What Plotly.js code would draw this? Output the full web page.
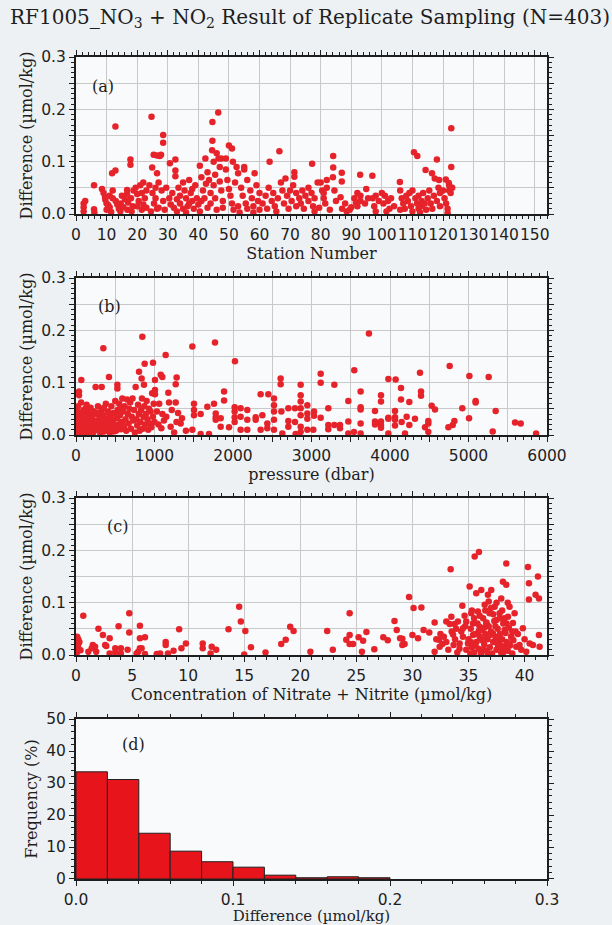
<!DOCTYPE html>
<html>
<head>
<meta charset="utf-8">
<script src="https://cdn.plot.ly/plotly-3.0.1.min.js"></script>
<style>html,body{margin:0;padding:0;background:#eef1f4;}#chart{width:612px;height:925px;}</style>
</head>
<body>
<div id="chart"></div>
<script>
// (a) station number vs difference
const pointsA = [
[2.5,0.020],[2.5,0.013],[2.5,0.005],[3,0.025],
[5.9,0.055],[5.9,0.009],[6,0.003],
[8.5,0.048],[9,0.040],[9.5,0.032],[9.6,0.027],[10,0.020],[10.5,0.017],[11,0.013],[10,0.008],[11.5,0.004],[12,0.045],[12,0.030],[11,0.035],
[11.8,0.078],[12.9,0.083],[12.9,0.167],[13,0.025],[13.5,0.018],[14,0.010],[14.5,0.005],
[14.6,0.020],[15.5,0.013],[16,0.028],[16.7,0.046],[16.7,0.038],[16.8,0.008],[17,0.022],[15,0.035],
[17.8,0.104],[17.8,0.094],[18,0.030],[18.5,0.015],[18.2,0.005],[18.8,0.045],
[19.5,0.050],[20,0.038],[20.5,0.025],[21,0.055],[21.5,0.040],[22,0.060],[22,0.018],[22.5,0.030],[23,0.012],[23,0.045],[21.5,0.008],[20,0.015],
[24.9,0.089],[24.7,0.186],[24,0.055],[25,0.040],[25.5,0.020],[26,0.050],[26.5,0.078],[26,0.030],[27,0.012],[27,0.060],[24.5,0.005],[26.5,0.010],
[25.4,0.113],[26.5,0.112],[27.4,0.111],[27.8,0.113],[28.5,0.151],[28.5,0.136],[28,0.045],[28.5,0.025],[29,0.008],[29.5,0.050],
[30.7,0.097],[32.5,0.104],[32.5,0.083],[32.5,0.072],[30.5,0.030],[31,0.018],[31.5,0.040],[32,0.012],[33,0.028],[33,0.005],[34,0.035],[34,0.020],[33.5,0.050],
[35,0.060],[35.5,0.045],[36,0.030],[36.5,0.015],[37,0.065],[37.5,0.040],[38,0.025],[38.5,0.010],[39,0.055],[39.5,0.030],[40,0.018],[40.5,0.005],[36,0.003],[38,0.048],[37,0.020],[35,0.010],
[40.5,0.092],[42.3,0.106],[41,0.070],[41.5,0.045],[42,0.030],[42.5,0.058],[43,0.080],[43.5,0.065],[44,0.040],[44,0.020],[43,0.012],[41,0.025],[44.5,0.122],[44.6,0.140],[44.6,0.176],[45,0.100],[45.5,0.075],[45,0.055],[45.5,0.030],
[46.5,0.194],[46,0.116],[46.6,0.106],[47.5,0.106],[47,0.062],[47.5,0.045],[48,0.025],[48,0.012],[46,0.008],[47,0.090],
[50,0.131],[51,0.125],[49,0.106],[49.5,0.065],[50,0.048],[50.5,0.035],[51,0.020],[51.5,0.008],[49,0.085],[52,0.060],[51.3,0.100],
[52.5,0.090],[53,0.078],[55,0.090],[55,0.085],[54,0.050],[54.5,0.035],[55.5,0.020],[56,0.065],[56,0.010],[53,0.015],[53.5,0.003],
[58.4,0.078],[57,0.045],[57.5,0.030],[58,0.015],[59,0.055],[59.5,0.025],[60,0.040],[60,0.008],[58,0.003],
[61,0.020],[62,0.035],[62.5,0.010],[63.3,0.100],[63,0.050],[64,0.025],[64.5,0.040],[65,0.015],[66,0.030],[65.5,0.005],
[66.5,0.120],[67,0.060],[67.5,0.045],[68,0.020],[68.5,0.068],[69,0.035],[69.5,0.010],[70,0.045],[70.5,0.025],[71.4,0.080],[71.4,0.071],[71,0.055],[72,0.015],[72,0.040],
[73,0.030],[73.5,0.020],[74,0.045],[74.5,0.010],[75,0.035],[76,0.025],[76,0.050],[77.2,0.096],[77,0.040],[77.5,0.015],[78,0.030],[78,0.005],
[79,0.060],[80,0.060],[80.5,0.045],[81,0.030],[81.5,0.020],[82,0.065],[82,0.050],[83,0.008],[79.5,0.012],[81,0.040],
[84.1,0.111],[84.1,0.089],[84,0.070],[84.5,0.045],[85,0.025],[86.9,0.079],[86.9,0.062],[86.5,0.032],[87,0.010],[88,0.020],[88.5,0.005],
[89.5,0.008],[90,0.013],[91,0.030],[91.5,0.022],[92,0.040],[92.9,0.075],[93,0.035],[93,0.025],[92,0.015],
[94.9,0.048],[94.5,0.020],[95.5,0.030],[96.9,0.073],[97,0.030],[97.5,0.015],[98,0.005],[98,0.035],[99,0.025],
[100,0.040],[100.5,0.020],[101,0.035],[102,0.025],[102.5,0.010],[103,0.030],[104,0.015],[101.5,0.005],
[105.9,0.061],[106,0.045],[106.5,0.030],[107,0.020],[107.5,0.010],[108,0.035],[108.5,0.025],[109,0.040],[109.5,0.015],[110,0.045],[110,0.005],[106,0.008],
[110.5,0.118],[111.6,0.111],[111,0.030],[111.5,0.020],[112,0.010],[112,0.035],[113,0.025],[113,0.015],[113.5,0.040],[114.3,0.084],[114,0.020],[114.5,0.008],[112.5,0.003],
[116.4,0.078],[117.3,0.068],[118,0.104],[115,0.030],[115.5,0.045],[116,0.020],[116.5,0.010],[117,0.035],[118,0.025],[118.5,0.050],[119,0.015],[118.7,0.065],[119,0.040],
[120.9,0.066],[121.9,0.059],[120,0.045],[120.5,0.030],[121,0.020],[121.5,0.010],[122,0.045],[122.7,0.164],[122.7,0.090],[122.5,0.040],[122,0.055],[121.5,0.002],[123,0.050]
];

// (b) pressure (dbar) vs difference
const pointsB = [
[5,0.008],[8,0.035],[10,0.025],[12,0.015],[15,0.045],[20,0.005],[25,0.055],[30,0.012],[35,0.035],[40,0.020],[45,0.002],[50,0.030],[55,0.018],[60,0.008],[65,0.062],[70,0.040],[75,0.028],[80,0.015],[85,0.009],[90,0.025],[95,0.048],[100,0.003],[105,0.016],[110,0.035],[115,0.026],[120,0.050],[125,0.004],[130,0.010],[135,0.058],[140,0.022],[145,0.033],[150,0.045],[155,0.014],[160,0.006],[165,0.042],[170,0.030],[175,0.007],[180,0.018],[185,0.052],[190,0.038],[195,0.021],[200,0.012],
[210,0.030],[220,0.005],[230,0.045],[240,0.018],[250,0.027],[260,0.010],[270,0.040],[280,0.055],[290,0.020],[300,0.033],[310,0.003],[320,0.012],[330,0.048],[340,0.025],[350,0.038],[360,0.007],[370,0.018],[380,0.060],[390,0.030],[400,0.014],[410,0.045],[420,0.022],[430,0.005],[440,0.035],[450,0.055],[460,0.012],[470,0.028],[480,0.042],[490,0.018],[500,0.065],[510,0.008],[520,0.032],[530,0.048],[540,0.020],[550,0.060],[560,0.038],[570,0.011],[580,0.025],[590,0.070],[600,0.045],[610,0.015],[620,0.055],[630,0.030],[640,0.008],[650,0.068],[660,0.040],[670,0.022],[680,0.050],[690,0.062],[700,0.012],[710,0.035],[720,0.070],[730,0.028],[740,0.048],[750,0.005],[770,0.030],[780,0.018],[790,0.058],[800,0.040],[810,0.008],[820,0.025],[830,0.048],[840,0.070],[850,0.012],[860,0.035],[870,0.055],[880,0.020],[890,0.040],[900,0.065],[910,0.030],[920,0.010],[930,0.050],[940,0.022],[950,0.045],[960,0.015],[970,0.080],[980,0.035],[990,0.060],[1000,0.025],
[18,0.018],[28,0.028],[48,0.042],[58,0.024],[68,0.014],[78,0.034],[88,0.044],[98,0.019],[108,0.006],[118,0.029],[128,0.039],[148,0.011],[158,0.027],[168,0.017],[188,0.031],[198,0.047],[215,0.022],[235,0.012],[255,0.040],[275,0.017],[295,0.043],[315,0.026],[335,0.009],[355,0.052],[375,0.030],[395,0.022],[425,0.040],[445,0.016],[475,0.007],[505,0.040],[535,0.015],[565,0.050],[595,0.020],
[68,0.105],[38,0.083],[38,0.076],[250,0.092],[327,0.092],[420,0.111],[527,0.096],[527,0.089],[348,0.166],[760,0.092],[803,0.121],[836,0.108],[845,0.188],[866,0.096],[875,0.136],[981,0.138],[1006,0.105],[1006,0.086],[1006,0.078],[1079,0.115],[1100,0.111],[1142,0.153],[1176,0.081],[1185,0.062],[1270,0.097],[1282,0.110],[1270,0.062],[1482,0.169],[1771,0.177],[2025,0.141],
[1030,0.045],[1050,0.020],[1060,0.060],[1087,0.013],[1100,0.040],[1120,0.028],[1150,0.035],[1206,0.016],[1220,0.048],[1250,0.005],[1280,0.025],[1300,0.042],[1333,0.022],[1350,0.032],[1400,0.008],[1482,0.010],[1503,0.060],[1503,0.048],[1503,0.038],[1588,0.040],[1588,0.002],[1673,0.054],[1694,0.002],[1758,0.060],[1780,0.041],[1780,0.034],[1780,0.029],[1843,0.032],[1843,0.016],[1886,0.083],[1886,0.066],[1949,0.015],
[2021,0.053],[2021,0.045],[2021,0.034],[2021,0.025],[2097,0.051],[2097,0.035],[2097,0.010],[2182,0.048],[2182,0.029],[2182,0.010],[2289,0.034],[2289,0.029],[2352,0.078],[2352,0.010],[2374,0.038],[2437,0.022],[2437,0.013],[2450,0.078],[2522,0.070],[2522,0.057],[2522,0.045],[2522,0.029],[2522,0.010],[2607,0.108],[2607,0.097],[2616,0.045],[2628,0.003],[2705,0.051],[2705,0.027],[2705,0.016],[2790,0.051],[2790,0.025],[2798,0.002],[2862,0.096],[2862,0.076],[2862,0.064],[2862,0.051],[2862,0.038],[2862,0.016],[2862,0.006],[2947,0.057],[2947,0.041],[2947,0.031],[2947,0.010],
[3023,0.010],[3032,0.045],[3032,0.037],[3117,0.117],[3117,0.100],[3117,0.033],[3214,0.051],[3214,0.019],[3214,0.011],[3291,0.096],[3291,0.019],[3363,0.019],[3363,0.013],[3469,0.065],[3469,0.026],[3469,0.003],[3541,0.006],[3545,0.124],[3626,0.083],[3626,0.053],[3626,0.049],[3626,0.022],[3626,0.003],[3732,0.194],[3809,0.046],[3809,0.026],[3809,0.020],[3885,0.076],[3885,0.064],[3885,0.026],[3885,0.019],[3885,0.014],[3979,0.107],[3979,0.033],[3979,0.031],[3979,0.003],[4064,0.046],[4064,0.034],[4064,0.029],[4064,0.018],[4072,0.106],[4140,0.090],[4140,0.068],[4148,0.025],[4191,0.003],[4212,0.035],[4246,0.063],[4246,0.019],[4318,0.031],[4382,0.119],[4395,0.083],[4395,0.075],[4446,0.015],[4488,0.027],[4488,0.022],[4488,0.006],[4531,0.056],[4573,0.049],[4744,0.015],[4760,0.132],[4799,0.019],[4820,0.027],[4921,0.051],[5007,0.032],[5011,0.113],[5091,0.065],[5091,0.062],[5257,0.111],[5308,0.007],[5346,0.046],[5593,0.024],[5665,0.022],[5861,0.003]
];

// (c) nitrate + nitrite concentration vs difference
const pointsC = [
[0.65,0.075],[0.2,0.030],[0.2,0.021],[0.2,0.013],[0.1,0.006],[0.1,0.035],[0.05,0.016],[0.3,0.025],[0.4,0.009],[0.05,0.004],
[1.1,0.006],[1.4,0.013],[2.0,0.050],[1.5,0.019],[1.7,0.016],[1.8,0.006],[2.4,0.038],[2.6,0.019],[2.7,0.017],[3.0,0.032],[3.0,0.003],[3.5,0.013],[3.5,0.005],[3.8,0.055],[4.0,0.013],[4.0,0.003],[4.75,0.080],[4.75,0.043],[4.6,0.010],[5.4,0.003],[5.55,0.006],[5.7,0.013],[5.7,0.056],[5.7,0.032],[6.15,0.034],[5.85,0.013],[6.15,0.002],[7.2,0.002],[7.5,0.003],[8.0,0.025],[8.0,0.019],[8.2,0.003],[8.7,0.008],[9.2,0.049],[9.4,0.013],[9.8,0.022],[11.3,0.022],[11.3,0.013],[12.0,0.003],[12.1,0.016],[12.5,0.010],[13.6,0.049],[14.55,0.092],[14.7,0.064],[15.1,0.046],[15.0,0.001],[15.6,0.015],[16.9,0.005],[18.3,0.021],[18.7,0.029],[19.1,0.054],[19.4,0.046],[20.9,0.006],
[22.4,0.046],[22.9,0.010],[24.1,0.029],[24.4,0.038],[24.4,0.021],[24.7,0.021],[25.2,0.034],[25.6,0.027],[25.5,0.006],[25.9,0.044],[24.4,0.080],[26.6,0.011],[27.4,0.034],[27.8,0.028],[28.4,0.065],[28.6,0.048],[28.9,0.032],[29.1,0.031],[29.1,0.019],[29.3,0.021],[29.7,0.111],[30.1,0.090],[30.8,0.091],[30.0,0.038],[30.5,0.032],[31.0,0.048],[31.5,0.043],
[31.98,0.062],[31.98,0.006],[32.13,0.030],[32.37,0.029],[32.43,0.016],[32.67,0.021],[33.02,0.064],[33.02,0.025],[33.32,0.059],[33.41,0.164],[33.47,0.073],[33.62,0.039],[33.67,0.019],[33.76,0.059],[34.06,0.064],[34.21,0.022],[34.36,0.045],[34.45,0.094],[34.51,0.051],[34.65,0.075],[34.80,0.064],[34.95,0.022],[35.10,0.131],[35.16,0.003],[35.25,0.080],[35.40,0.038],[35.55,0.188],[35.69,0.118],[35.84,0.083],[35.93,0.197],[35.99,0.054],[36.14,0.124],[36.29,0.029],[36.44,0.096],[36.58,0.061],[36.73,0.115],[36.88,0.080],[37.03,0.124],[37.18,0.041],[37.33,0.092],[37.48,0.067],[37.62,0.019],[37.77,0.080],[37.92,0.108],[38.07,0.140],[38.22,0.048],[38.37,0.175],[38.37,0.134],[38.52,0.073],[38.66,0.092],[38.81,0.035],[38.96,0.061],[39.11,0.080],[39.26,0.016],[39.55,0.019],[39.85,0.051],[40.15,0.006],[40.30,0.168],[40.39,0.137],[40.39,0.106],[40.45,0.022],[40.74,0.019],[40.98,0.115],[41.19,0.150],[41.28,0.108],[41.28,0.038],[41.34,0.016],
[34.8,0.010],[35.0,0.030],[35.2,0.050],[35.3,0.015],[35.5,0.005],[35.6,0.040],[35.7,0.025],[35.8,0.060],[35.9,0.012],[36.0,0.035],[36.1,0.002],[36.2,0.048],[36.3,0.070],[36.4,0.020],[36.5,0.040],[36.6,0.008],[36.7,0.030],[36.8,0.055],[36.9,0.015],[37.0,0.045],[37.1,0.003],[37.2,0.025],[37.3,0.065],[37.4,0.035],[37.5,0.010],[37.6,0.050],[37.7,0.022],[37.8,0.040],[37.9,0.005],[38.0,0.030],[38.1,0.060],[38.2,0.015],[38.3,0.042],[38.4,0.025],[38.5,0.008],[38.6,0.052],[38.7,0.018],[38.8,0.035],[38.9,0.003],[39.0,0.028],[39.2,0.045],[36.0,0.075],[36.5,0.085],[37.0,0.090],[37.5,0.100],[38.0,0.085],[38.5,0.100],[35.5,0.070],[36.8,0.102],[37.8,0.070],[35.3,0.085],[35.2,0.025],[35.6,0.018],[36.3,0.010],[36.9,0.038],[37.4,0.055],[37.9,0.018],[38.4,0.060],[38.9,0.045],[36.2,0.028],[36.6,0.062],[37.6,0.032],[38.1,0.005],[38.6,0.022],[37.2,0.078],[36.4,0.052],[35.9,0.045],[34.5,0.035],[34.2,0.012],[33.8,0.030],[33.5,0.045],[33.2,0.010],[32.8,0.035],[32.5,0.040],[34.0,0.005],[33.9,0.050],[34.7,0.055],[38.2,0.070],[37.7,0.012],[36.7,0.004],[35.4,0.060],[39.4,0.040],[39.7,0.010],[40.0,0.030]
];

// (d) histogram of differences (bin centres, bin width 0.02) and frequency (%)
const binCentersD = [0.01,0.03,0.05,0.07,0.09,0.11,0.13,0.15,0.17,0.19];
const freqD = [33.5,31.1,14.3,8.7,5.4,3.7,1.2,0.4,0.7,0.4];

const RED = '#e6232a';
const INK = '#1e1e1e';
const GRID = '#c9c9c9';
const SERIF = 'DejaVu Serif, Liberation Serif, serif';
const SANS = 'DejaVu Sans, Liberation Sans, Arial, sans-serif';

function mk(pts, xa, ya){
  return {type:'scatter', mode:'markers', x:pts.map(p=>p[0]), y:pts.map(p=>p[1]),
    xaxis:xa, yaxis:ya, marker:{color:RED, size:6.5}, hoverinfo:'skip', showlegend:false};
}

const traces = [
  mk(pointsA,'x','y'),
  mk(pointsB,'x2','y2'),
  mk(pointsC,'x3','y3'),
  {type:'bar', x:binCentersD, y:freqD, width:0.02, xaxis:'x4', yaxis:'y4',
   marker:{color:'#e8141c', line:{color:'#222', width:1}}, showlegend:false, hoverinfo:'skip'}
];

function xax(domainAnchor, range, dtick, step, minorDtick, title, grid, standoff, tsize){
  return {anchor:domainAnchor, domain:[0,1], range:range, dtick:dtick, tick0:0, ticklabelstep:step,
    tickangle:0,
    showgrid:grid, gridcolor:GRID, gridwidth:1, zeroline:false,
    showline:true, linecolor:INK, linewidth:2, mirror:'ticks',
    ticks:'outside', ticklen:5, tickwidth:1, tickcolor:INK,
    minor:{ticks:'outside', ticklen:3, dtick:minorDtick, tickcolor:INK, showgrid:false},
    tickfont:{family:SANS, size:15.5, color:INK},
    title:{text:title, font:{family:SERIF, size:tsize, color:INK}, standoff:standoff}};
}
function yax(domainAnchor, dom, range, dtick, step, minorDtick, title, fmt, grid){
  return {anchor:domainAnchor, domain:dom, range:range, dtick:dtick, tick0:0, ticklabelstep:step, tickformat:fmt,
    showgrid:grid, gridcolor:GRID, gridwidth:1, zeroline:false,
    showline:true, linecolor:INK, linewidth:2, mirror:'ticks',
    ticks:'outside', ticklen:5, tickwidth:1, tickcolor:INK,
    minor:{ticks:'outside', ticklen:3, dtick:minorDtick, tickcolor:INK, showgrid:false},
    tickfont:{family:SANS, size:15.5, color:INK},
    title:{text:title, font:{family:SERIF, size:16, color:INK}, standoff:5}};
}

const yTitle = 'Difference (µmol/kg)';
const layout = {
  width:612, height:925,
  paper_bgcolor:'#eef1f4', plot_bgcolor:'#f9fafb',
  margin:{l:76, r:65, t:57, b:46},
  showlegend:false,
  title:{text:'RF1005_NO<sub>3</sub> + NO<sub>2</sub> Result of Replicate Sampling (N=403)',
    font:{family:SERIF, size:20, color:INK}, xref:'container', yref:'container',
    x:10/612, xanchor:'left', y:1-17/925, yanchor:'middle'},
  xaxis: xax('y', [0,154], 10, 1, 2, 'Station Number', true, 5, 16),
  yaxis: yax('x', [0.809,1], [0,0.3], 0.05, 2, 0.01, yTitle, '.1f', true),
  xaxis2: xax('y2', [0,6000], 500, 2, 100, 'pressure (dbar)', true, 5, 16),
  yaxis2: yax('x2', [0.5401,0.7311], [0,0.3], 0.05, 2, 0.01, yTitle, '.1f', true),
  xaxis3: xax('y3', [0,42], 5, 1, 1, 'Concentration of Nitrate + Nitrite (µmol/kg)', true, 5, 16),
  yaxis3: yax('x3', [0.2725,0.4635], [0,0.3], 0.05, 2, 0.01, yTitle, '.1f', true),
  xaxis4: Object.assign(xax('y4', [0,0.3], 0.1, 1, 0.02, 'Difference (µmol/kg)', false, 1, 15), {tickformat:'.1f'}),
  yaxis4: yax('x4', [0,0.1946], [0,50], 10, 1, 2, 'Frequency (%)', 'd', false),
  bargap:0,
  annotations:[
    {text:'(a)', xref:'x', yref:'y', x:8.8, y:0.243, showarrow:false, font:{family:SERIF, size:16, color:INK}},
    {text:'(b)', xref:'x2', yref:'y2', x:433, y:0.245, showarrow:false, font:{family:SERIF, size:16, color:INK}},
    {text:'(c)', xref:'x3', yref:'y3', x:3.74, y:0.245, showarrow:false, font:{family:SERIF, size:16, color:INK}},
    {text:'(d)', xref:'x4', yref:'y4', x:0.0364, y:41.9, showarrow:false, font:{family:SERIF, size:16, color:INK}}
  ]
};

Plotly.newPlot('chart', traces, layout, {staticPlot:true, displayModeBar:false});
</script>
</body>
</html>
